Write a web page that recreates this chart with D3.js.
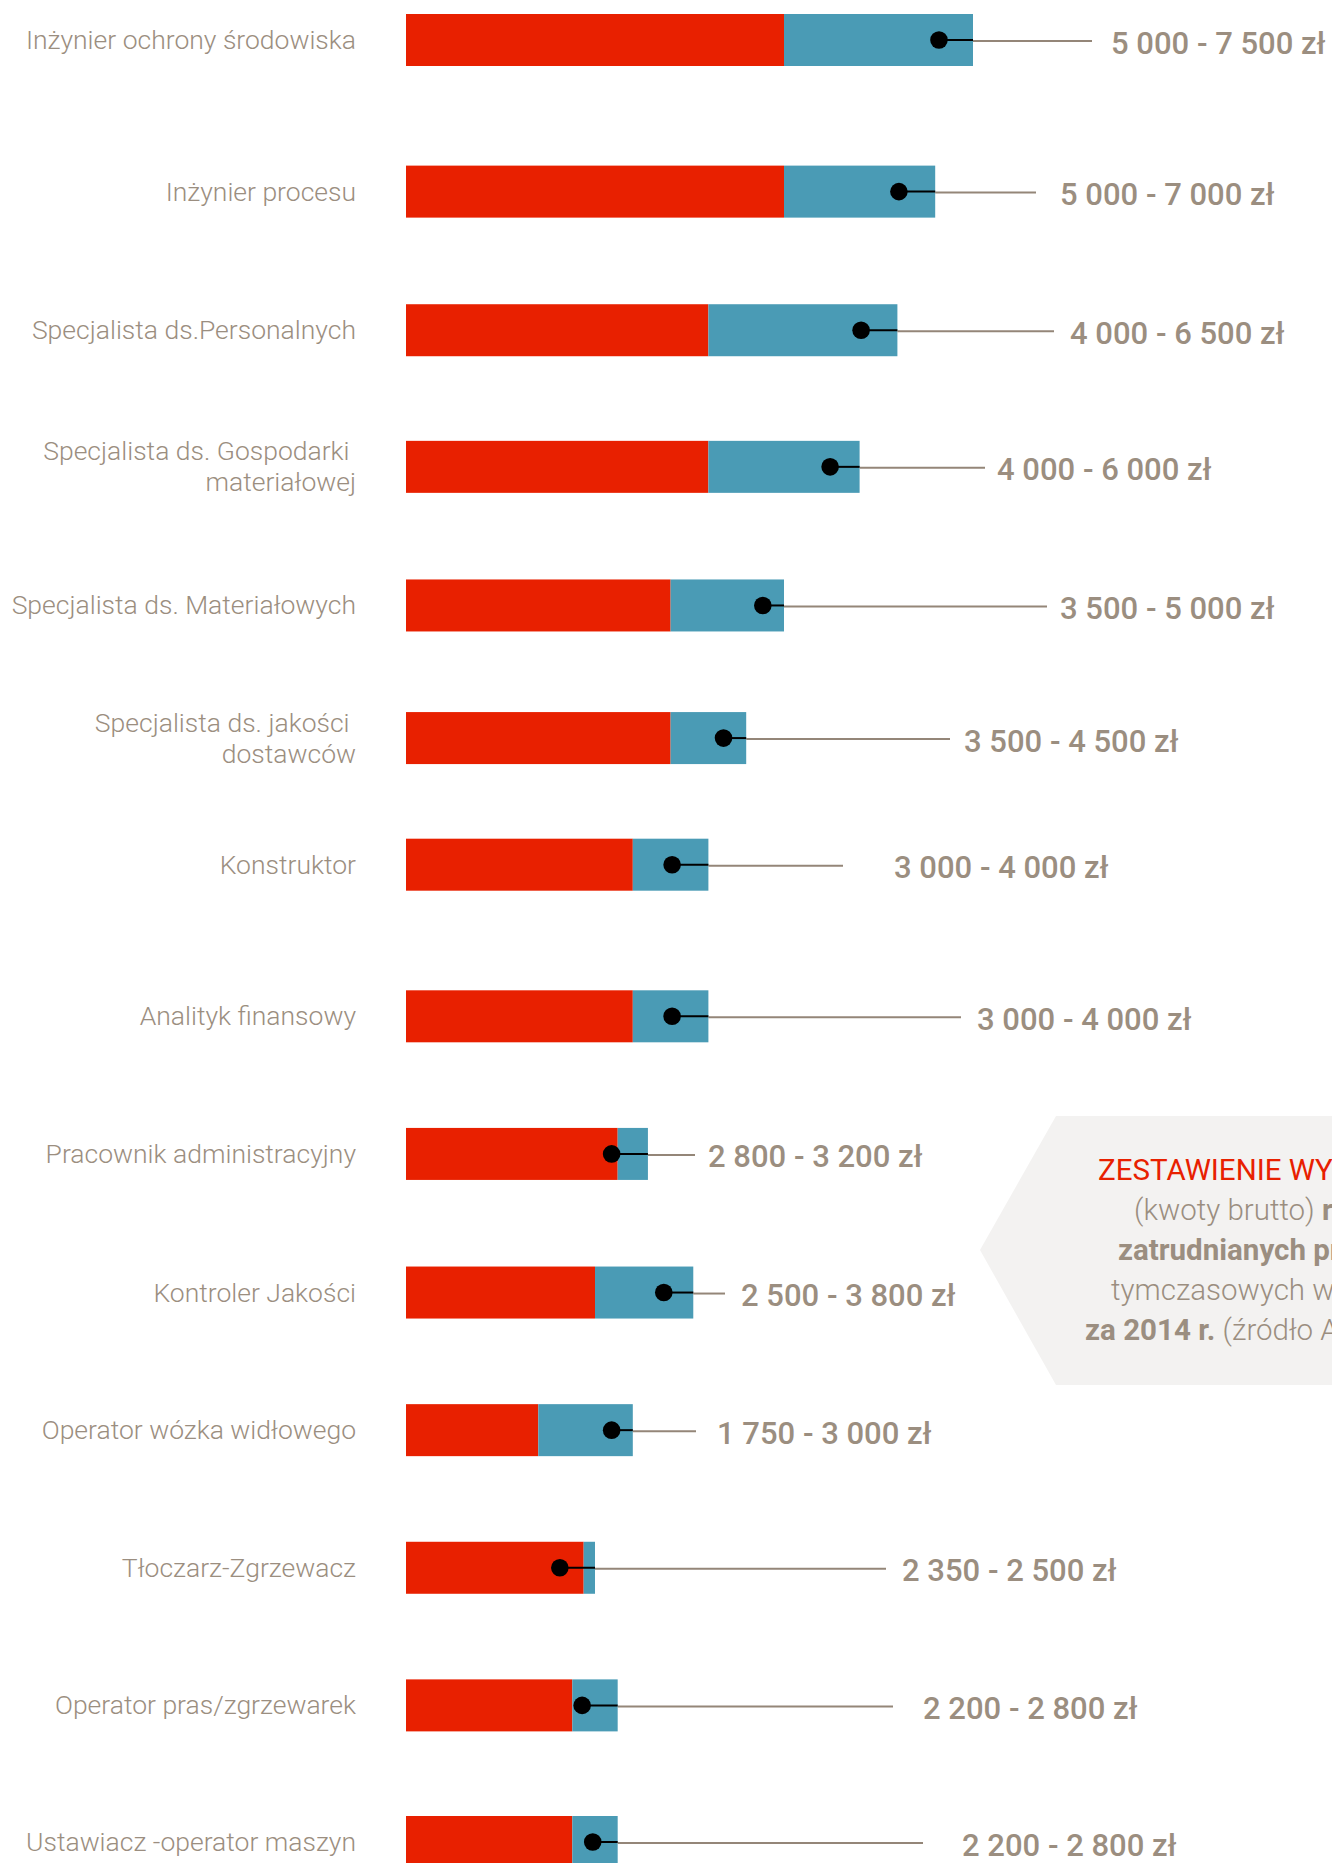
<!DOCTYPE html>
<html>
<head>
<meta charset="utf-8">
<script src="https://cdn.jsdelivr.net/npm/d3@7"></script>
<style>
  body { margin: 0; background: #fff; }
  svg { display: block; font-family: Roboto, "Noto Sans", sans-serif; }
</style>
</head>
<body>
<script>
// stanowiska (etykiety w dwóch liniach tam gdzie w oryginale)
var jobs = [
  ["Inżynier ochrony środowiska"],
  ["Inżynier procesu"],
  ["Specjalista ds.Personalnych"],
  ["Specjalista ds. Gospodarki ", "materiałowej"],
  ["Specjalista ds. Materiałowych"],
  ["Specjalista ds. jakości ", "dostawców"],
  ["Konstruktor"],
  ["Analityk finansowy"],
  ["Pracownik administracyjny"],
  ["Kontroler Jakości"],
  ["Operator wózka widłowego"],
  ["Tłoczarz-Zgrzewacz"],
  ["Operator pras/zgrzewarek"],
  ["Ustawiacz -operator maszyn"]
];
// widełki płacowe (zł brutto)
var salaryMin = [5000, 5000, 4000, 4000, 3500, 3500, 3000, 3000, 2800, 2500, 1750, 2350, 2200, 2200];
var salaryMax = [7500, 7000, 6500, 6000, 5000, 4500, 4000, 4000, 3200, 3800, 3000, 2500, 2800, 2800];
// kropka
var salaryDot = [7050, 6520, 6020, 5610, 4720, 4200, 3520, 3520, 2720, 3410, 2720, 2035, 2330, 2470];

// layout only: where each leader line ends / label starts, small row nudges
var leaderEnd = [1092, 1036, 1054, 985, 1047, 950, 843, 961, 695, 725, 696, 886, 893, 923];
var labelX    = [1111, 1060, 1070, 997, 1060, 964, 894, 977, 708, 741, 717, 902, 923, 962];
var rowNudge  = [0, 13, 13, 11, 11, 5, -7, 6, 5, 5, 4, 3, 2, 0];

var width = 1332, height = 1863;
var RED = "#e82000", BLUE = "#4a9bb5", TEXT = "#9b8e80", LINE = "#948678";

var data = jobs.map(function(j, i) {
  return { name: j, key: j.join(" "), min: salaryMin[i], max: salaryMax[i], dot: salaryDot[i], i: i };
});

var svg = d3.select("body").append("svg")
    .attr("width", width)
    .attr("height", height);

// set the ranges
var x = d3.scaleLinear().domain([0, 7500]).range([406, 973]);
var y = d3.scalePoint().domain(data.map(function(d) { return d.key; })).range([40, 1842]);
var barH = 52;
function cy(d) { return y(d.key) + rowNudge[d.i]; }

// callout box (behind everything), runs off the right edge like the original
var box = svg.append("g");
box.append("path")
    .attr("d", "M980,1250 L1056,1116 L1340,1116 L1340,1385 L1056,1385 Z")
    .attr("fill", "#f3f2f1");

var boxLines = [
  { x: 1098, parts: [{ t: "ZESTAWIENIE WYNAGRODZEŃ", w: 400, c: RED }] },
  { x: 1134, parts: [{ t: "(kwoty brutto) ", w: 300, c: TEXT }, { t: "rekrutowanych", w: 700, c: TEXT }] },
  { x: 1118, parts: [{ t: "zatrudnianych pracowników", w: 700, c: TEXT }] },
  { x: 1111, parts: [{ t: "tymczasowych w Polsce", w: 300, c: TEXT }] },
  { x: 1085, parts: [{ t: "za 2014 r. ", w: 700, c: TEXT }, { t: "(źródło Adecco)", w: 300, c: TEXT }] }
];
boxLines.forEach(function(l, i) {
  var t = box.append("text")
      .attr("x", l.x)
      .attr("y", 1180 + i * 40)
      .style("font-size", "29.5px")
      .style("white-space", "pre");
  l.parts.forEach(function(p) {
    t.append("tspan")
        .attr("fill", p.c)
        .style("font-weight", p.w)
        .text(p.t);
  });
});

var rows = svg.selectAll(".row")
    .data(data)
  .enter().append("g")
    .attr("class", "row");

// red part: minimum
rows.append("rect")
    .attr("x", x(0))
    .attr("y", function(d) { return cy(d) - barH / 2; })
    .attr("width", function(d) { return x(d.min) - x(0); })
    .attr("height", barH)
    .attr("fill", RED);

// blue part: min -> max
rows.append("rect")
    .attr("x", function(d) { return x(d.min); })
    .attr("y", function(d) { return cy(d) - barH / 2; })
    .attr("width", function(d) { return x(d.max) - x(d.min); })
    .attr("height", barH)
    .attr("fill", BLUE);

// leader line outside the bar
rows.append("line")
    .attr("x1", function(d) { return x(d.max); })
    .attr("x2", function(d) { return leaderEnd[d.i]; })
    .attr("y1", function(d) { return cy(d) + 1; })
    .attr("y2", function(d) { return cy(d) + 1; })
    .attr("stroke", LINE)
    .attr("stroke-width", 2);

// black part over the bar
rows.append("line")
    .attr("x1", function(d) { return x(d.dot); })
    .attr("x2", function(d) { return x(d.max); })
    .attr("y1", function(d) { return cy(d); })
    .attr("y2", function(d) { return cy(d); })
    .attr("stroke", "#000")
    .attr("stroke-width", 2);

rows.append("circle")
    .attr("cx", function(d) { return x(d.dot); })
    .attr("cy", function(d) { return cy(d); })
    .attr("r", 8.8)
    .attr("fill", "#000");

var fmt = function(v) { return d3.format(",")(v).replace(/,/g, " "); };

rows.append("text")
    .attr("x", function(d) { return labelX[d.i]; })
    .attr("y", function(d) { return cy(d) + 13.5; })
    .attr("fill", TEXT)
    .style("font-size", "31px")
    .style("font-weight", 500)
    .text(function(d) { return fmt(d.min) + " - " + fmt(d.max) + " zł"; });

// job names, right aligned
rows.append("text")
    .attr("text-anchor", "end")
    .attr("fill", TEXT)
    .style("font-size", "26.5px")
    .style("font-weight", 300)
    .style("white-space", "pre")
    .each(function(d) {
      var t = d3.select(this);
      var n = d.name.length;
      d.name.forEach(function(line, k) {
        t.append("tspan")
            .attr("x", 356)
            .attr("y", cy(d) + 9 + (k - (n - 1) / 2) * 31)
            .text(line);
      });
    });
</script>
</body>
</html>
